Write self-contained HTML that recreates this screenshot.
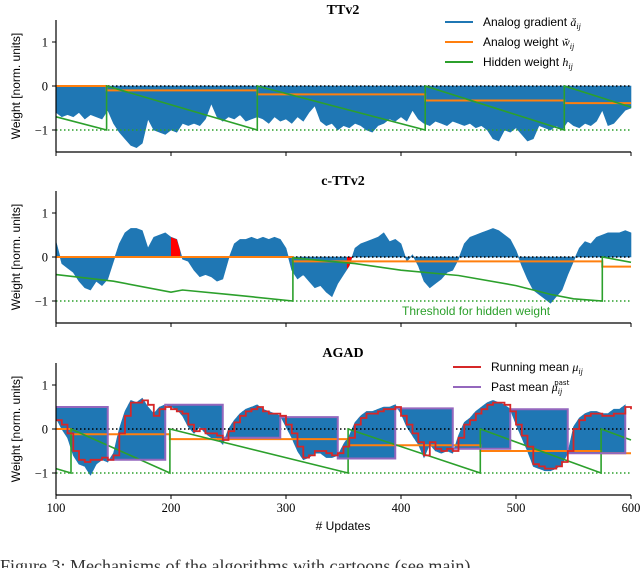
<!DOCTYPE html>
<html><head><meta charset="utf-8"><style>
body{margin:0;background:#fff;width:640px;height:568px;overflow:hidden}
svg{display:block}
.serif{font-family:"Liberation Serif",serif}
.sans{font-family:"Liberation Sans","DejaVu Sans",sans-serif}
</style></head><body>
<svg id="chart" width="640" height="568" viewBox="0 0 640 568" xmlns="http://www.w3.org/2000/svg"></svg>
<script>
const xTicks=[100,200,300,400,500,600];
const yTicks=[1,0,-1];
const panelTitles=["TTv2","c-TTv2","AGAD"];
// TTv2
const gradTop=[-0.6,-0.7,-0.65,-0.7,-0.6,-0.75,-0.65,-0.7,-0.75,-0.55,-0.85,-1.05,-1.2,-1.35,-1.4,-1.3,-0.75,-1.0,-1.05,-1.1,-1.0,-1.05,-0.85,-0.9,-0.85,-0.9,-0.75,-0.4,-0.7,-0.8,-0.7,-0.75,-0.65,-0.8,-0.75,-0.7,-0.75,-0.85,-0.7,-0.8,-0.75,-0.85,-0.7,-0.8,-0.6,-0.45,-0.8,-0.9,-0.85,-1.0,-0.9,-0.95,-0.85,-0.9,-1.0,-1.05,-0.9,-0.85,-0.75,-0.8,-0.7,-0.8,-0.55,-0.75,-0.85,-0.9,-0.8,-0.85,-0.9,-0.8,-0.85,-0.9,-0.85,-0.95,-0.9,-1.0,-1.2,-1.25,-1.0,-1.05,-0.95,-1.1,-1.25,-1.2,-0.9,-0.95,-1.0,-0.9,-1.0,-0.8,-0.9,-0.95,-0.85,-0.9,-0.8,-0.55,-0.9,-0.85,-0.7,-0.55,-0.5];
const weightTopX=[100,144,275,421,542,600];
const weightTopY=[0,-0.1,-0.19,-0.33,-0.39];
const hiddenTopX=[100,144,144,275,275,421,421,542,542,600];
const hiddenTopY=[-0.7,-1,0,-1,0,-1,0,-1,0,-0.48];
// c-TTv2
const gradMid=[0.35,-0.15,-0.25,-0.35,-0.55,-0.7,-0.75,-0.55,-0.65,-0.5,-0.1,0.3,0.55,0.65,0.65,0.6,0.2,0.45,0.5,0.55,0.45,0.4,-0.05,-0.1,-0.3,-0.45,-0.4,-0.45,-0.55,-0.5,-0.05,0.3,0.4,0.4,0.45,0.4,0.45,0.4,0.45,0.4,0.2,-0.3,-0.5,-0.4,-0.55,-0.7,-0.65,-0.8,-0.9,-0.6,-0.4,-0.2,0.2,0.3,0.35,0.4,0.45,0.55,0.35,0.4,0.3,-0.1,0.05,-0.2,-0.55,-0.7,-0.6,-0.5,-0.35,-0.3,-0.05,0.3,0.45,0.5,0.55,0.6,0.65,0.6,0.5,0.4,0.15,-0.2,-0.5,-0.75,-0.85,-0.95,-1.05,-0.9,-0.75,-0.4,-0.1,0.2,0.35,0.3,0.45,0.5,0.55,0.55,0.55,0.6,0.55];
const weightMidX=[100,306,575,600];
const weightMidY=[0,-0.1,-0.22];
const hiddenMidX=[100,150,200,210,250,306,306,360,400,450,500,530,550,575,575,600];
const hiddenMidY=[-0.4,-0.55,-0.8,-0.75,-0.85,-1,-0.02,-0.15,-0.3,-0.42,-0.65,-0.85,-0.95,-1,0,-0.12];
const flagStart=[200,353];
const flagEnd=[208,358];
// AGAD
const runMean=[0.2,0.1,-0.1,-0.5,-0.7,-0.75,-0.7,-0.7,-0.65,-0.7,-0.6,-0.1,0.3,0.6,0.6,0.65,0.55,0.3,0.45,0.5,0.45,0.4,0.35,0.1,-0.05,0.0,-0.1,-0.1,-0.15,-0.25,-0.05,0.15,0.3,0.4,0.45,0.5,0.4,0.35,0.35,0.3,0.1,-0.1,-0.4,-0.65,-0.6,-0.5,-0.5,-0.55,-0.6,-0.55,-0.4,-0.2,0.1,0.25,0.35,0.35,0.4,0.45,0.45,0.5,0.3,0.1,-0.1,-0.3,-0.6,-0.3,-0.45,-0.5,-0.45,-0.5,-0.2,0.1,0.2,0.35,0.45,0.55,0.6,0.6,0.55,0.4,0.1,-0.15,-0.4,-0.8,-0.85,-0.9,-0.9,-0.85,-0.75,-0.5,0.0,0.2,0.3,0.35,0.35,0.3,0.3,0.35,0.35,0.5,0.45];
const gradBot=[0.25,0.0,-0.2,-0.6,-0.8,-0.85,-1.05,-0.8,-0.7,-0.75,-0.55,0.0,0.4,0.65,0.6,0.7,0.5,0.35,0.5,0.55,0.5,0.45,0.3,0.05,-0.1,0.05,-0.1,-0.2,-0.2,-0.35,0.0,0.2,0.35,0.45,0.5,0.55,0.45,0.4,0.35,0.3,0.05,-0.2,-0.5,-0.7,-0.65,-0.55,-0.55,-0.65,-0.65,-0.6,-0.35,-0.15,0.15,0.3,0.4,0.4,0.45,0.5,0.5,0.55,0.35,0.05,-0.15,-0.35,-0.65,-0.35,-0.5,-0.55,-0.5,-0.55,-0.15,0.15,0.25,0.4,0.5,0.6,0.65,0.6,0.55,0.45,0.1,-0.2,-0.5,-0.85,-0.9,-0.95,-0.95,-0.9,-0.8,-0.55,0.05,0.25,0.35,0.4,0.4,0.35,0.35,0.45,0.45,0.55,0.55];
const pastStart=[100,145,195,245,295,345,395,445,495,545];
const pastEnd=[145,195,245,295,345,395,445,495,545,595];
const pastVals=[0.5,-0.7,0.55,-0.2,0.27,-0.67,0.47,-0.45,0.45,-0.55];
const weightBotX=[100,113,199,354,469,574,600];
const weightBotY=[0,-0.12,-0.23,-0.37,-0.5,-0.55];
const hiddenBotX=[100,113,113,199,199,354,354,469,469,574,574,600];
const hiddenBotY=[-0.9,-1,0,-1,0,-1,0,-1,0,-1,0,-0.25];

const NS="http://www.w3.org/2000/svg";
const svg=document.getElementById('chart');
const X0=56,X1=631,XMIN=100,XMAX=600;
const zeros=[86,257,429];
const PU=44;
function sx(v){return X0+(v-XMIN)/(XMAX-XMIN)*(X1-X0);}
function gx(i){return XMIN+i*5;}
function interp(arr,x){const f=(x-XMIN)/5;const i=Math.max(0,Math.min(arr.length-2,Math.floor(f)));const t=f-i;return arr[i]*(1-t)+arr[i+1]*t;}
function el(tag,attrs,parent){const e=document.createElementNS(NS,tag);for(const k in attrs)e.setAttribute(k,attrs[k]);(parent||svg).appendChild(e);return e;}
function txt(s,attrs,parent){const e=el('text',attrs,parent);e.textContent=s;return e;}

function axes(p){
  const z=zeros[p];const sy=v=>z-v*PU;
  const g=el('g',{});
  
  
  const t=txt(panelTitles[p],{x:343,y:z-72,'text-anchor':'middle','font-size':'14','font-weight':'bold',class:'serif'},g);
  
  
  const yl=txt('Weight [norm. units]',{x:0,y:0,transform:`translate(20,${z}) rotate(-90)`,'text-anchor':'middle','font-size':'12',class:'sans'},g);
  
  
  yTicks.forEach(v=>{
    el('line',{x1:X0-4,x2:X0,y1:sy(v),y2:sy(v),stroke:'#000','stroke-width':1},g);
    const tl=txt(v<0?'\u2212'+Math.abs(v):String(v),{x:X0-8,y:sy(v)+4.5,'text-anchor':'end','font-size':'12.5',class:'serif'},g);
    
    
  });
  xTicks.forEach(v=>{
    el('line',{x1:sx(v),x2:sx(v),y1:z+66,y2:z+70,stroke:'#000','stroke-width':1},g);
    if(p===2){const tl=txt(String(v),{x:sx(v),y:z+83,'text-anchor':'middle','font-size':'12.5',class:'serif'},g);
      
      }
  });
  return {g,sy};
}
function spines(p){
  const z=zeros[p];
  el('line',{x1:X0,x2:X0,y1:z-66,y2:z+66,stroke:'#000','stroke-width':1.2});
  el('line',{x1:X0,x2:X1,y1:z+66,y2:z+66,stroke:'#000','stroke-width':1.2});
}
function gradFill(arr,sy,g){
  let d=`M${sx(XMIN)},${sy(0)}`;
  arr.forEach((v,i)=>{d+=`L${sx(gx(i)).toFixed(1)},${sy(v).toFixed(1)}`;});
  d+=`L${sx(XMAX)},${sy(0)}Z`;
  const e=el('path',{d,fill:'#1f77b4',stroke:'#1f77b4','stroke-width':0.6},g);
  
  
}
function stepLine(xs,ys,sy,color,name,g,w){
  let d=`M${sx(xs[0])},${sy(ys[0])}`;
  for(let i=0;i<ys.length;i++){d+=`L${sx(xs[i])},${sy(ys[i])}L${sx(xs[i+1])},${sy(ys[i])}`;}
  const e=el('path',{d,fill:'none',stroke:color,'stroke-width':w||2},g);
  
  
}
function polyLine(xs,ys,sy,color,name,g){
  const pts=xs.map((x,i)=>sx(x).toFixed(1)+','+sy(ys[i]).toFixed(1)).join(' ');
  const e=el('polyline',{points:pts,fill:'none',stroke:color,'stroke-width':1.6},g);
  
  
}
function refLines(sy,g){
  const a=el('line',{x1:X0,x2:X1,y1:sy(0),y2:sy(0),stroke:'#000','stroke-width':1.6,'stroke-dasharray':'1.5,2.5'},g);
  
  
  const b=el('line',{x1:X0,x2:X1,y1:sy(-1),y2:sy(-1),stroke:'#2ca02c','stroke-width':1.6,'stroke-dasharray':'1.5,2.5'},g);
  
  
}
function legend(items,x,y0,gap){
  const g=el('g',{});
  
  
  items.forEach((it,i)=>{
    const y=y0+i*gap;
    const e=el('g',{},g);
    
    
    el('line',{x1:x,x2:x+28,y1:y,y2:y,stroke:it[0],'stroke-width':2},e);
    const t=txt('',{x:x+38,y:y+4,'font-size':'12',class:'sans'},e);
    t.innerHTML=it[1];
  });
}

// Panel 1
{const {g,sy}=axes(0);
 gradFill(gradTop,sy,g);
 refLines(sy,g);
 stepLine(weightTopX,weightTopY,sy,'#ff7f0e','analog-weight-line',g);
 polyLine(hiddenTopX,hiddenTopY,sy,'#2ca02c','hidden-weight-line',g);
 spines(0);
 legend([['#1f77b4','Analog gradient <tspan font-style="italic" font-family="Liberation Serif">ă<tspan font-size="8" dy="3">ij</tspan></tspan>'],['#ff7f0e','Analog weight <tspan font-style="italic" font-family="Liberation Serif">w̆<tspan font-size="8" dy="3">ij</tspan></tspan>'],['#2ca02c','Hidden weight <tspan font-style="italic" font-family="Liberation Serif">h<tspan font-size="8" dy="3">ij</tspan></tspan>']],445,22,20);}
// Panel 2
{const {g,sy}=axes(1);
 gradFill(gradMid,sy,g);
 flagStart.forEach((s,k)=>{
   let d=`M${sx(s)},${sy(0)}`;
   for(let x=s;x<=flagEnd[k];x+=1){d+=`L${sx(x).toFixed(1)},${sy(interp(gradMid,x)).toFixed(1)}`;}
   d+=`L${sx(flagEnd[k])},${sy(0)}Z`;
   const e=el('path',{d,fill:'#ff0000'},g);
   
   
 });
 refLines(sy,g);
 stepLine(weightMidX,weightMidY,sy,'#ff7f0e','analog-weight-line',g);
 polyLine(hiddenMidX,hiddenMidY,sy,'#2ca02c','hidden-weight-line',g);
 spines(1);
 const t=txt('Threshold for hidden weight',{x:402,y:zeros[1]+58,'font-size':'12',fill:'#2ca02c',class:'sans'},g);
 
 }
// Panel 3
{const {g,sy}=axes(2);
 pastStart.forEach((s,k)=>{
   let d=`M${sx(s)},${sy(pastVals[k])}`;
   for(let x=s;x<=pastEnd[k];x+=1){d+=`L${sx(x).toFixed(1)},${sy(interp(gradBot,x)).toFixed(1)}`;}
   d+=`L${sx(pastEnd[k])},${sy(pastVals[k])}Z`;
   const e=el('path',{d,fill:'#1f77b4',stroke:'#1f77b4','stroke-width':0.6},g);
   
   
 });
 refLines(sy,g);
 stepLine(weightBotX,weightBotY,sy,'#ff7f0e','analog-weight-line',g);
 polyLine(hiddenBotX,hiddenBotY,sy,'#2ca02c','hidden-weight-line',g);
 let d='';
 pastStart.forEach((s,k)=>{d+=(k?'L':'M')+`${sx(s)},${sy(pastVals[k])}L${sx(pastEnd[k])},${sy(pastVals[k])}`;});
 d+=`L${sx(pastEnd[pastEnd.length-1])},${sy(pastVals[0])}`;
 const pm=el('path',{d,fill:'none',stroke:'#9467bd','stroke-width':2},g);
 
 
 let r='';
 runMean.forEach((v,i)=>{r+=(i?'L':'M')+`${sx(gx(i)).toFixed(1)},${sy(v).toFixed(1)}`+(i<runMean.length-1?`L${sx(gx(i+1)).toFixed(1)},${sy(v).toFixed(1)}`:'');});
 const rm=el('path',{d:r,fill:'none',stroke:'#d62728','stroke-width':1.8},g);
 
 
 spines(2);
 const xl=txt('# Updates',{x:343,y:530,'text-anchor':'middle','font-size':'12',class:'sans'},g);
 
 
 legend([['#d62728','Running mean <tspan font-style="italic" font-family="Liberation Serif">μ<tspan font-size="8" dy="3">ij</tspan></tspan>'],['#9467bd','Past mean <tspan font-style="italic" font-family="Liberation Serif">μ<tspan font-size="8" dy="3">ij</tspan><tspan font-size="7" dy="-9" dx="-8" font-style="normal" font-family="DejaVu Sans">past</tspan></tspan>']],453,367,20);}
const cap=txt('Figure 3: Mechanisms of the algorithms with cartoons (see main)',{x:0,y:572,'font-size':'18',fill:'#333',class:'serif'});


</script>
</body></html>
